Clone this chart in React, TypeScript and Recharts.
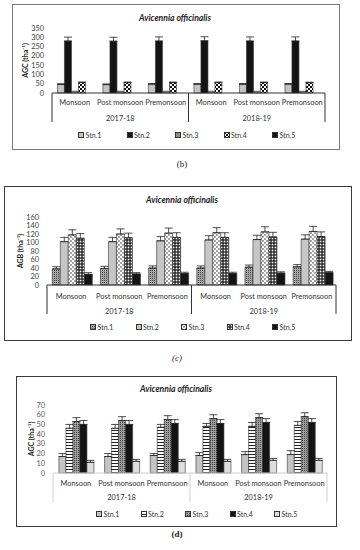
import React from 'react';
import { BarChart, Bar, XAxis, YAxis, ErrorBar, Legend, Label } from 'recharts';

const FONT = 'Lato, "Open Sans", sans-serif';

// shared categories
const categories = ['Monsoon', 'Post monsoon', 'Premonsoon', 'Monsoon', 'Post monsoon', 'Premonsoon'];
const seasonYears = ['2017-18', '2017-18', '2017-18', '2018-19', '2018-19', '2018-19'];
const stations = ['Stn.1', 'Stn.2', 'Stn.3', 'Stn.4', 'Stn.5'];
const chartTitle = 'Avicennia officinalis';

// Panel (b) AGC
const bTicks = [0, 50, 100, 150, 200, 250, 300, 350];
const bStn1 = [46, 45, 47, 47, 47, 47];
const bStn2 = [280, 279, 280, 281, 280, 280];
const bStn3 = [10, 10, 10, 10, 10, 10];
const bStn4 = [56, 56, 56, 56, 56, 55];
const bStn5 = [0, 0, 0, 0, 0, 0];
const bErr1 = [4, 4, 4, 4, 4, 4];
const bErr2 = [21, 21, 22, 22, 22, 22];
const bErr3 = [0, 0, 0, 0, 0, 0];
const bErr4 = [3, 3, 3, 3, 3, 3];
const bErr5 = [0, 0, 0, 0, 0, 0];

// Panel (c) AGB
const cTicks = [0, 20, 40, 60, 80, 100, 120, 140, 160];
const cStn1 = [38, 39, 40, 40, 42, 43];
const cStn2 = [102, 102, 104, 106, 107, 108];
const cStn3 = [118, 120, 122, 123, 125, 126];
const cStn4 = [110, 111, 112, 112, 113, 114];
const cStn5 = [25, 26, 27, 27, 28, 29];
const cErr1 = [5, 5, 5, 5, 5, 5];
const cErr2 = [10, 10, 10, 10, 10, 10];
const cErr3 = [12, 12, 12, 12, 12, 12];
const cErr4 = [11, 11, 11, 11, 11, 11];
const cErr5 = [4, 3, 3, 3, 3, 3];

// Panel (d) AGC
const dTicks = [0, 10, 20, 30, 40, 50, 60, 70];
const dStn1 = [17, 17, 18, 18, 19, 19];
const dStn2 = [46, 46, 47, 48, 48, 49];
const dStn3 = [53, 54, 55, 56, 57, 58];
const dStn4 = [50, 50, 51, 51, 52, 52];
const dStn5 = [11, 12, 12, 12, 13, 13];
const dErr1 = [3, 3, 2, 3, 3, 4];
const dErr2 = [4, 4, 3, 3, 4, 4];
const dErr3 = [4, 4, 4, 4, 4, 4];
const dErr4 = [4, 4, 4, 4, 4, 4];
const dErr5 = [2, 2, 2, 2, 2, 2];

function buildRows(values: number[][], errors: number[][]) {
  return categories.map((c, k) => {
    const row: any = { category: c, year: seasonYears[k] };
    values.forEach((v, i) => {
      row[`s${i}`] = v[k];
      row[`e${i}`] = [0, errors[i][k]];
    });
    return row;
  });
}

const bRows = buildRows([bStn1, bStn2, bStn3, bStn4, bStn5], [bErr1, bErr2, bErr3, bErr4, bErr5]);
const cRows = buildRows([cStn1, cStn2, cStn3, cStn4, cStn5], [cErr1, cErr2, cErr3, cErr4, cErr5]);
const dRows = buildRows([dStn1, dStn2, dStn3, dStn4, dStn5], [dErr1, dErr2, dErr3, dErr4, dErr5]);

type PanelProps = {
  left: number;
  top: number;
  width: number;
  height: number;
  margin: { top: number; right: number; bottom: number; left: number };
  yWidth: number;
  xHeight: number;
  ticks: number[];
  yLabel: string;
  yLabelDx: number;
  rows: any[];
  errors: number[][];
  fills: string[];
  defs: React.ReactNode;
  gap: string;
  axisColor: string;
  textColor: string;
  tickColor: string;
  catDy: number;
  yearDy: number;
  legendLeft: number;
  legendTop: number;
  legendSpacing: number;
};

function Panel(p: PanelProps) {
  const n = p.rows.length;
  const plotW = p.width - p.margin.left - p.margin.right - p.yWidth;
  const axisY = p.height - p.margin.bottom - p.xHeight;
  const renderTick = (t: any) => {
    const { x, payload, index } = t;
    const half = payload && typeof payload.offset === 'number' && payload.offset > 0 ? payload.offset : plotW / n / 2;
    const els: React.ReactNode[] = [];
    els.push(
      <text key="c" x={x} y={axisY + p.catDy} textAnchor="middle" fontSize={7.4} fill={p.textColor} fontFamily={FONT}>
        {payload.value}
      </text>
    );
    if (index % 3 === 0) {
      els.push(<line key="l" x1={x - half} x2={x - half} y1={axisY} y2={axisY + 29} stroke={p.axisColor} strokeWidth={1} />);
    }
    if (index === n - 1) {
      els.push(<line key="r" x1={x + half} x2={x + half} y1={axisY} y2={axisY + 29} stroke={p.axisColor} strokeWidth={1} />);
    }
    if (index % 3 === 1) {
      els.push(
        <text key="y" x={x} y={axisY + p.yearDy} textAnchor="middle" fontSize={7.4} fill={p.textColor} fontFamily={FONT}>
          {p.rows[index].year}
        </text>
      );
    }
    return <g>{els}</g>;
  };

  const legendContent = () => (
    <div style={{ display: 'flex', fontFamily: FONT, fontSize: 7, color: p.textColor, lineHeight: '10px' }}>
      {stations.map((s, i) => (
        <div key={s} style={{ width: p.legendSpacing, display: 'flex', alignItems: 'center' }}>
          <svg width={6} height={6} style={{ marginRight: 1.5, display: 'block' }}>
            <rect x={0.5} y={0.5} width={5} height={5} fill={p.fills[i]} stroke="#333" strokeWidth={1} />
          </svg>
          <span>{s}</span>
        </div>
      ))}
    </div>
  );

  return (
    <div style={{ position: 'absolute', left: p.left, top: p.top, width: p.width, height: p.height }}>
      <BarChart
        width={p.width}
        height={p.height}
        data={p.rows}
        margin={p.margin}
        barGap={0}
        barCategoryGap={p.gap}
      >
        <defs>{p.defs}</defs>
        <XAxis
          dataKey="category"
          interval={0}
          tickLine={false}
          axisLine={{ stroke: p.axisColor, strokeWidth: 1 }}
          height={p.xHeight}
          tick={renderTick}
        />
        <YAxis
          width={p.yWidth}
          domain={[p.ticks[0], p.ticks[p.ticks.length - 1]]}
          ticks={p.ticks}
          interval={0}
          axisLine={false}
          tickLine={false}
          tick={{ fontSize: 7.4, fill: p.tickColor, fontFamily: FONT }}
        >
          <Label
            value={p.yLabel}
            angle={-90}
            position="center"
            dx={p.yLabelDx}
            style={{ fontSize: 7, fontWeight: 700, fill: '#222', fontFamily: FONT }}
          />
        </YAxis>
        {stations.map((s, i) => (
          <Bar key={s} dataKey={`s${i}`} name={s} fill={p.fills[i]} stroke="#333" strokeWidth={0.6} isAnimationActive={false}>
            {p.errors[i].some((e) => e > 0) ? (
              <ErrorBar dataKey={`e${i}`} width={4} stroke="#222" strokeWidth={0.8} direction="y" />
            ) : null}
          </Bar>
        ))}
        <Legend
          layout="horizontal"
          verticalAlign="middle"
          align="center"
          wrapperStyle={{ left: p.legendLeft - p.left, top: p.legendTop - p.top, width: 'auto' }}
          content={legendContent}
        />
      </BarChart>
    </div>
  );
}

function Title({ cx, cy }: { cx: number; cy: number }) {
  return (
    <div
      style={{
        position: 'absolute',
        left: cx - 100,
        top: cy - 6,
        width: 200,
        textAlign: 'center',
        fontFamily: FONT,
        fontSize: 8.6,
        fontWeight: 700,
        fontStyle: 'italic',
        lineHeight: '12px',
        color: '#222',
      }}
    >
      {chartTitle}
    </div>
  );
}

function Caption({ cx, cy, text, style }: { cx: number; cy: number; text: string; style?: React.CSSProperties }) {
  return (
    <div
      style={{
        position: 'absolute',
        left: cx - 20,
        top: cy - 6,
        width: 40,
        textAlign: 'center',
        fontFamily: '"Liberation Serif", serif',
        fontSize: 9,
        lineHeight: '12px',
        color: '#222',
        ...style,
      }}
    >
      {text}
    </div>
  );
}

export default function App() {
  const bDefs = (
    <pattern id="b-check" width={4} height={4} patternUnits="userSpaceOnUse">
      <rect width={4} height={4} fill="#fff" />
      <rect x={0} y={0} width={2} height={2} fill="#111" />
      <rect x={2} y={2} width={2} height={2} fill="#111" />
    </pattern>
  );
  const cDefs = (
    <>
      <pattern id="c-dots" width={2} height={2} patternUnits="userSpaceOnUse">
        <rect width={2} height={2} fill="#a4a4a4" />
        <rect x={0} y={0} width={1} height={1} fill="#4a4a4a" />
      </pattern>
      <pattern id="c-diamond" width={4} height={4} patternUnits="userSpaceOnUse">
        <rect width={4} height={4} fill="#fff" />
        <circle cx={1} cy={1} r={0.9} fill="#7a7a7a" />
        <circle cx={3} cy={3} r={0.9} fill="#7a7a7a" />
      </pattern>
      <pattern id="c-grid" width={3} height={3} patternUnits="userSpaceOnUse">
        <rect width={3} height={3} fill="#111" />
        <rect x={0.6} y={0.6} width={1.8} height={1.8} fill="#fff" />
      </pattern>
    </>
  );
  const dDefs = (
    <>
      <pattern id="d-hstripe" width={4} height={3} patternUnits="userSpaceOnUse">
        <rect width={4} height={3} fill="#fff" />
        <rect x={0} y={0} width={4} height={1} fill="#222" />
      </pattern>
      <pattern id="d-dots" width={2} height={2} patternUnits="userSpaceOnUse">
        <rect width={2} height={2} fill="#9c9c9c" />
        <rect x={0} y={0} width={1} height={1} fill="#444" />
      </pattern>
    </>
  );

  return (
    <div style={{ position: 'absolute', left: 0, top: 0, width: 360, height: 550, background: '#fff', overflow: 'hidden' }}>
      {/* Panel (b) */}
      <div style={{ position: 'absolute', left: 12, top: 4, width: 328, height: 146, border: '1px solid #7a7a7a', boxSizing: 'border-box' }} />
      <Title cx={175} cy={18} />
      <Panel
        left={12}
        top={4}
        width={328}
        height={146}
        margin={{ top: 24, right: 15, bottom: 27, left: 0 }}
        yWidth={40}
        xHeight={30}
        ticks={bTicks}
        yLabel="AGC (tha⁻¹)"
        yLabelDx={-6}
        rows={bRows}
        errors={[bErr1, bErr2, bErr3, bErr4, bErr5]}
        fills={['#c4c4c4', '#141414', '#8c8c8c', 'url(#b-check)', '#141414']}
        defs={bDefs}
        gap="12%"
        axisColor="#333"
        textColor="#333"
        tickColor="#404040"
        catDy={12}
        yearDy={28}
        legendLeft={78}
        legendTop={130}
        legendSpacing={48.5}
      />
      <Caption cx={182} cy={164} text="(b)" />

      {/* Panel (c) */}
      <div style={{ position: 'absolute', left: 4, top: 186, width: 348, height: 155, border: '1px solid #3a3a3a', boxSizing: 'border-box' }} />
      <Title cx={182} cy={200} />
      <Panel
        left={4}
        top={186}
        width={348}
        height={155}
        margin={{ top: 31, right: 16, bottom: 26, left: 0 }}
        yWidth={43}
        xHeight={30}
        ticks={cTicks}
        yLabel="AGB (tha⁻¹)"
        yLabelDx={-5}
        rows={cRows}
        errors={[cErr1, cErr2, cErr3, cErr4, cErr5]}
        fills={['url(#c-dots)', '#c6c6c6', 'url(#c-diamond)', 'url(#c-grid)', '#141414']}
        defs={cDefs}
        gap="11%"
        axisColor="#333"
        textColor="#333"
        tickColor="#404040"
        catDy={14}
        yearDy={29}
        legendLeft={90}
        legendTop={322}
        legendSpacing={45.5}
      />
      <Caption cx={177} cy={358} text="(c)" style={{ fontStyle: 'italic' }} />

      {/* Panel (d) */}
      <div style={{ position: 'absolute', left: 16, top: 376, width: 321, height: 151, border: '1px solid #3a3a3a', boxSizing: 'border-box' }} />
      <Title cx={176} cy={389} />
      <Panel
        left={16}
        top={376}
        width={321}
        height={151}
        margin={{ top: 29, right: 10, bottom: 24, left: 0 }}
        yWidth={37}
        xHeight={30}
        ticks={dTicks}
        yLabel="AGC (tha⁻¹)"
        yLabelDx={-3}
        rows={dRows}
        errors={[dErr1, dErr2, dErr3, dErr4, dErr5]}
        fills={['#c4c4c4', 'url(#d-hstripe)', 'url(#d-dots)', '#141414', '#dedede']}
        defs={dDefs}
        gap="13%"
        axisColor="#cfcfcf"
        textColor="#333"
        tickColor="#595959"
        catDy={13}
        yearDy={27}
        legendLeft={96}
        legendTop={509}
        legendSpacing={44.5}
      />
      <Caption cx={177} cy={534} text="(d)" style={{ fontWeight: 700 }} />
    </div>
  );
}
